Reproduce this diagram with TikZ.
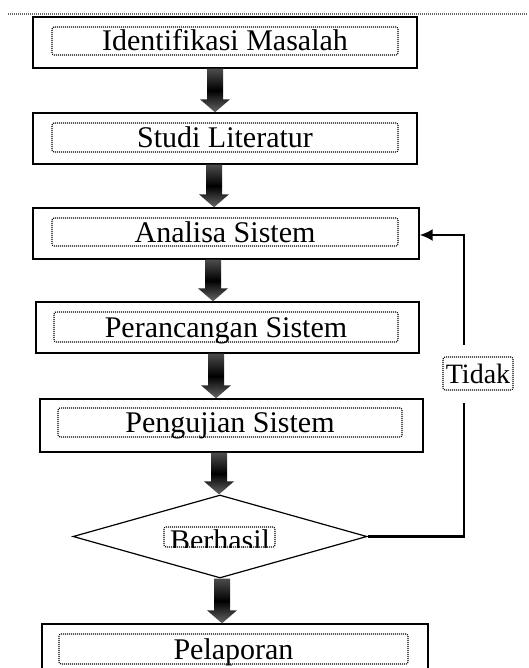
\documentclass[tikz,border=0pt]{standalone}
\usepackage{fontspec}
\setmainfont{Liberation Serif}
\usetikzlibrary{shapes.geometric,calc,arrows.meta}
\newcommand\blockarr[3]{%
  \path[arrowshade] let \p1=(#1.south), \p2=(#2.north) in
    (#3pt-8pt,\y1) -- (#3pt+8pt,\y1) -- (#3pt+8pt,\y2+13pt) -- (#3pt+15pt,\y2+13pt)
    -- (#3pt,\y2) -- (#3pt-15pt,\y2+13pt) -- (#3pt-8pt,\y2+13pt) -- cycle;}
\tikzset{
  outerbox/.style={draw=black, line width=1.4pt, fill=white, inner sep=0pt},
  dotline/.style={draw=black, line width=1.1pt, dash pattern=on 1pt off 1pt},
  txtbox/.style={dotline, rounded corners=2pt, inner sep=0pt, text height=20pt, text depth=0pt,
    font=\fontsize{30}{34}\selectfont},
  arrowshade/.style={top color=gray!60!black, bottom color=gray!80!black, middle color=black},
  fb/.style={draw=black, line width=2.2pt},
}
\begin{document}
\begin{tikzpicture}[x=1pt,y=-1pt]
\useasboundingbox (0,0) rectangle (528,668);
\clip (0,0) rectangle (528,668);
\fill[white] (0,0) rectangle (528,668);
% top dotted line
\draw[gray!80!black, line width=1.2pt, dash pattern=on 1pt off 1pt] (8,14) -- (528,14);
% outer boxes
\node[outerbox, minimum width=384pt, minimum height=51pt] (b1) at (225,42.5) {};
\node[outerbox, minimum width=384pt, minimum height=51pt] (b2) at (225,138.5) {};
\node[outerbox, minimum width=386pt, minimum height=51pt] (b3) at (226,233.5) {};
\node[outerbox, minimum width=383pt, minimum height=51pt] (b4) at (227.5,327.5) {};
\node[outerbox, minimum width=383pt, minimum height=53pt] (b5) at (231.5,425.5) {};
\node[draw=black, line width=1.2pt, fill=white, shape=diamond, inner sep=0pt,
      minimum width=294pt, minimum height=83pt] (d) at (220,536.5) {};
\node[outerbox, minimum width=386pt, minimum height=52pt] (b6) at (235,650) {};
% inner dotted text boxes
\node[txtbox, minimum width=346pt, minimum height=28pt] (t1) at (225,41) {Identifikasi Masalah};
\node[txtbox, minimum width=346pt, minimum height=29pt] (t2) at (225,137.5) {Studi Literatur};
\node[txtbox, minimum width=346pt, minimum height=28pt] (t3) at (225,232) {Analisa Sistem};
\node[txtbox, minimum width=344pt, minimum height=30pt] (t4) at (226,327) {Perancangan Sistem};
\node[txtbox, minimum width=344pt, minimum height=29pt] (t5) at (230,422.5) {Pengujian Sistem};
\node[txtbox, minimum width=349pt, minimum height=30pt] (t6) at (233.5,649) {Pelaporan};
% Berhasil (text clipped by its box)
\node[dotline, rounded corners=2pt,
      inner sep=0pt, minimum width=111pt, minimum height=20pt] (bt) at (219.5,537) {};
\begin{scope}
  \clip (bt.south west) rectangle (bt.north east);
  \node[anchor=base, inner sep=0pt, font=\fontsize{30}{34}\selectfont] (btx) at (220,550) {Berhasil};
\end{scope}
% block arrows
\blockarr{b1}{b2}{215}
\blockarr{b2}{b3}{214}
\blockarr{b3}{b4}{213}
\blockarr{b4}{b5}{216}
\blockarr{b5}{d}{219}
\blockarr{d}{b6}{222}
% feedback
\coordinate (v) at (464,235);
\draw[fb, -{Latex[length=13pt,width=12pt]}] (d.east) -| (v) -- (b3.east |- v);
\fill[white] (452,345) rectangle (476,403);
\node[dotline, rounded corners=2pt,
      fill=white, inner sep=1pt, minimum width=70pt, minimum height=33pt,
      text height=19pt, text depth=0pt, font=\fontsize{28}{32}\selectfont] (td) at (478,373.5) {Tidak};
\end{tikzpicture}
\end{document}
